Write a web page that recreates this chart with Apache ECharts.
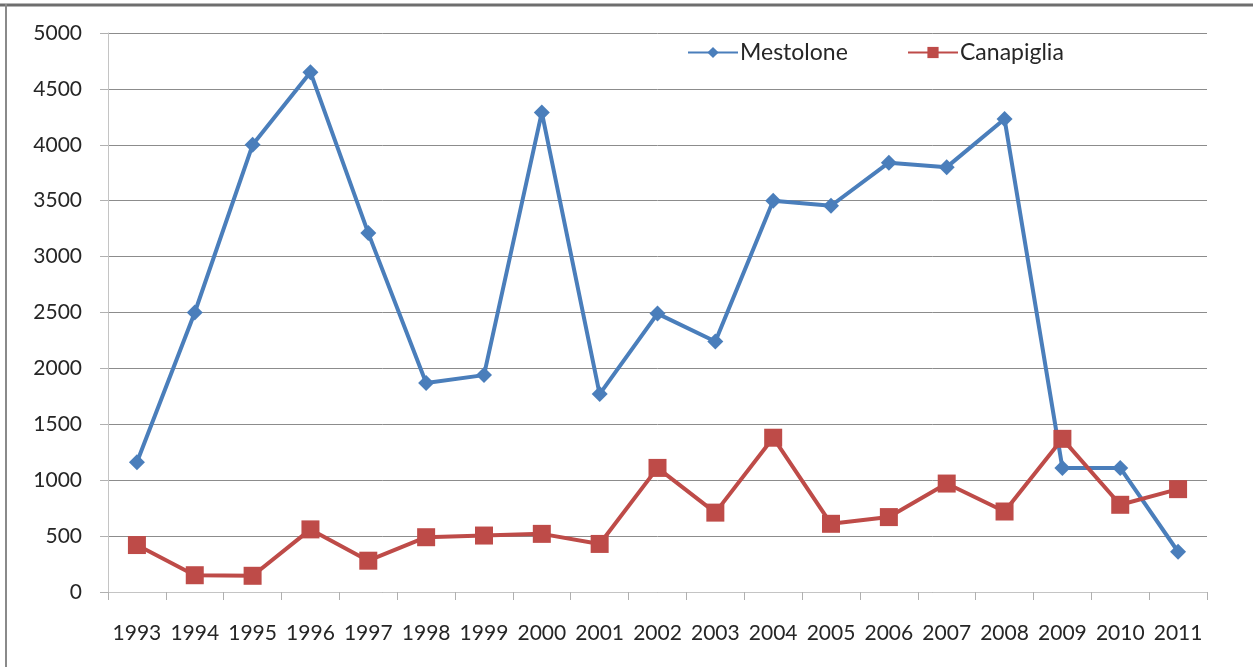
<!DOCTYPE html>
<html>
<head>
<meta charset="utf-8">
<script src="https://cdn.jsdelivr.net/npm/echarts@6/dist/echarts.min.js"></script>
<style>
html,body{margin:0;padding:0;background:#fff;}
#c{width:1253px;height:667px;}
</style>
</head>
<body>
<div id="c"></div>
<script>
var years = ['1993','1994','1995','1996','1997','1998','1999','2000','2001','2002','2003','2004','2005','2006','2007','2008','2009','2010','2011'];
var mestolone = [1160, 2500, 4000, 4650, 3210, 1870, 1940, 4290, 1770, 2490, 2240, 3500, 3455, 3840, 3800, 4230, 1110, 1110, 360];
var canapiglia = [420, 150, 145, 560, 280, 490, 505, 520, 430, 1110, 710, 1380, 610, 670, 970, 720, 1370, 780, 920];
var yTicks = {min: 0, max: 5000, interval: 500};

var chart = echarts.init(document.getElementById('c'));
var font = 'Lato, "Liberation Sans", sans-serif';
chart.setOption({
  animation: false,
  backgroundColor: '#fff',
  textStyle: {fontFamily: font},
  graphic: [
    {type: 'line', shape: {x1: 0, y1: 5, x2: 1253, y2: 5}, style: {stroke: '#6e6e6e', lineWidth: 3}},
    {type: 'line', shape: {x1: 6, y1: 4, x2: 6, y2: 667}, style: {stroke: '#8a8a8a', lineWidth: 2}}
  ],
  grid: {left: 108, right: 46, top: 33, bottom: 75},
  legend: [
    {data: ['Mestolone'], left: 687, top: 41, padding: 0, itemWidth: 50, itemHeight: 14, itemGap: 0,
     textStyle: {fontFamily: font, fontSize: 23, color: '#262626', padding: [0,0,0,-3]}},
    {data: ['Canapiglia'], left: 907, top: 41, padding: 0, itemWidth: 50, itemHeight: 14, itemGap: 0,
     textStyle: {fontFamily: font, fontSize: 23, color: '#262626', padding: [0,0,0,-3]}}
  ],
  xAxis: {
    type: 'category',
    data: years,
    boundaryGap: true,
    axisLine: {lineStyle: {color: '#c4c4c4', width: 1}},
    axisTick: {show: true, length: 8, lineStyle: {color: '#b0b0b0'}},
    axisLabel: {fontFamily: font, fontSize: 21, color: '#262626', margin: 31, interval: 0},
    splitLine: {show: false}
  },
  yAxis: {
    type: 'value',
    min: yTicks.min, max: yTicks.max, interval: yTicks.interval,
    axisLine: {show: true, lineStyle: {color: '#c4c4c4', width: 1}},
    axisTick: {show: true, length: 8, lineStyle: {color: '#b0b0b0'}},
    axisLabel: {fontFamily: font, fontSize: 21, color: '#262626', margin: 26,
      formatter: function (v) { return String(v); }},
    splitLine: {show: true, lineStyle: {color: '#8c8c8c', width: 1}}
  },
  series: [
    {
      name: 'Mestolone', type: 'line', data: mestolone,
      symbol: 'diamond', symbolSize: 16,
      lineStyle: {color: '#4a7ebb', width: 4},
      itemStyle: {color: '#4a7ebb'}
    },
    {
      name: 'Canapiglia', type: 'line', data: canapiglia,
      symbol: 'rect', symbolSize: 18,
      lineStyle: {color: '#be4b48', width: 4},
      itemStyle: {color: '#be4b48'}
    }
  ]
});
</script>
</body>
</html>
